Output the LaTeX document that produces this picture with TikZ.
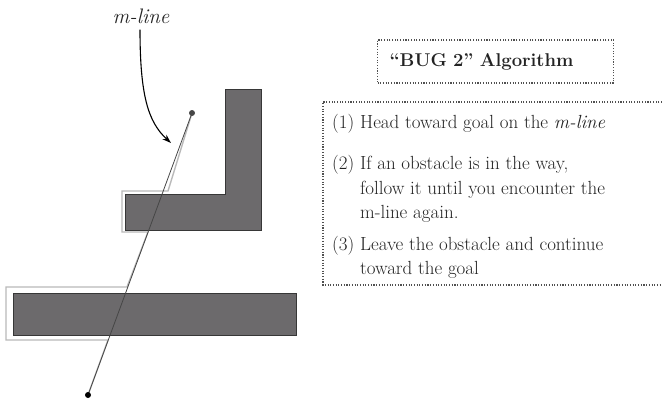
\documentclass[tikz,border=0pt]{standalone}
\usetikzlibrary{arrows.meta}
\definecolor{obst}{RGB}{108,106,108}
\definecolor{obstedge}{RGB}{55,55,55}
\definecolor{pathgray}{RGB}{185,185,185}
\definecolor{mgray}{RGB}{70,70,70}
\definecolor{boxgray}{RGB}{80,80,80}
\definecolor{txtgray}{RGB}{35,35,35}
\begin{document}
\begin{tikzpicture}[x=1pt,y=-1pt,
  obstacle/.style={fill=obst,draw=obstedge,line width=0.8pt},
  robotpath/.style={draw=pathgray,line width=1.4pt,line join=miter},
  mline/.style={draw=mgray,line width=0.8pt},
  dotbox/.style={draw=boxgray,dash pattern=on 1.1pt off 1.6pt,line width=1.1pt},
  txt/.style={anchor=base west,inner sep=0pt,text=txtgray,font=\fontsize{19}{22}\selectfont},
  ]
\useasboundingbox (0,0) rectangle (662,400);
% obstacles
\path[obstacle] (125,194) -- (225,194) -- (225,89) -- (261,89) -- (261,230) -- (125,230) -- cycle;
\path[obstacle] (13,293) rectangle (296,335);
% start / goal
\coordinate (start) at (88,395);
\coordinate (goal) at (192,113);
% robot path
\draw[robotpath] (start) -- (108,340) -- (6,340) -- (6,287) -- (127,287) -- (148,232)
  -- (122,232) -- (122,191) -- (168,191) -- (goal);
% m-line
\draw[mline] (start) -- (goal);
\fill[black] (start) circle (3);
\fill[mgray] (goal) circle (3);
% label and arrow
\node[font=\fontsize{21}{24}\selectfont\itshape, text=txtgray, inner sep=2pt] (mlab) at (141,16) {m-line};
\coordinate (mtip) at (171,143);
\draw[line width=1.1pt,-{Stealth[length=9pt,width=6pt]}] (mlab.south) ++(-1,4) .. controls (140,95) and (148,122) .. (mtip);
% title box
\node[dotbox, anchor=west, minimum height=43pt, text width=212pt, align=left, inner xsep=12pt,
  text=txtgray, font=\fontsize{18.5}{22}\selectfont\bfseries] (title) at (377,61.5) {``BUG 2'' Algorithm};
% main box
\draw[dotbox] (662,102) -| (323,285) -- (662,285);
% items
\node[txt] (i1) at (332,128) {(1) Head toward goal on the \textit{m-line}};
\node[txt] (i2a) at (332,169) {(2) If an obstacle is in the way,};
\node[txt] (i2b) at (332,194) {\phantom{(2) }follow it until you encounter the};
\node[txt] (i2c) at (332,218) {\phantom{(2) }m-line again.};
\node[txt] (i3a) at (332,250) {(3) Leave the obstacle and continue};
\node[txt] (i3b) at (332,274) {\phantom{(3) }toward the goal};
\end{tikzpicture}
\end{document}
